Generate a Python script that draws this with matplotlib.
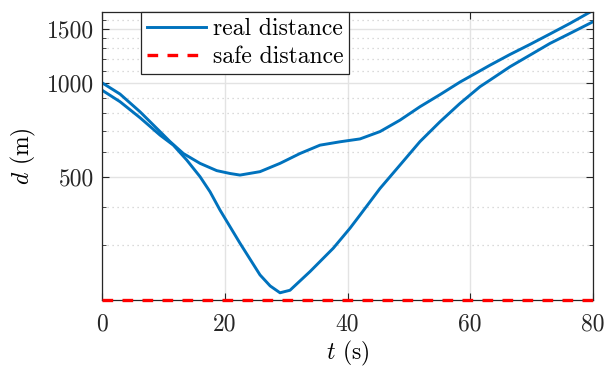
import matplotlib
matplotlib.use('Agg')
import matplotlib.pyplot as plt
from matplotlib.ticker import FixedLocator, NullFormatter

plt.rcParams['font.family'] = 'cmr10'
plt.rcParams['mathtext.fontset'] = 'cm'
plt.rcParams['axes.formatter.use_mathtext'] = True

# distance curves (t in s, d in m)
t_a = [0, 2.93, 6.19, 9.45, 11.08, 13.25, 15.97, 18.69, 20.86, 22.48, 25.74, 29.0,
       32.26, 35.52, 38.78, 42.04, 45.29, 48.55, 51.81, 55.07, 58.33, 61.59, 63.22,
       66.48, 69.73, 72.99, 76.25, 80]
d_a = [1005, 924, 810, 699, 649, 594, 552, 523, 512, 506, 519, 552,
       594, 632, 648, 662, 699, 761, 841, 920, 1010, 1098, 1145,
       1240, 1336, 1444, 1562, 1720]

t_b = [0, 2.93, 6.19, 9.45, 11.62, 13.8, 15.97, 17.6, 19.23, 22.48, 25.74, 27.4,
       29.0, 30.63, 33.89, 37.69, 40.41, 42.04, 45.29, 48.55, 51.81, 55.07, 58.33,
       61.59, 63.22, 66.48, 69.73, 72.99, 76.25, 80]
d_b = [951, 873, 775, 681, 632, 566, 500, 447, 390, 305, 241, 222,
       211, 215, 247, 294, 341, 376, 458, 545, 649, 752, 862,
       976, 1025, 1132, 1234, 1346, 1450, 1581]

t_safe = [0, 80]
d_safe = [200, 200]

yticks = [500, 1000, 1500]
yminor = [300, 400, 600, 700, 800, 900, 1100, 1200, 1300, 1400, 1600]

fig = plt.figure(figsize=(6.08, 3.67), dpi=100)
ax = fig.add_axes([0.1678, 0.1826, 0.8075, 0.7847])

blue = '#0072BD'
ax.plot(t_a, d_a, color=blue, lw=2.1, label='real distance', solid_joinstyle='round')
ax.plot(t_b, d_b, color=blue, lw=2.1, solid_joinstyle='round')
ax.plot(t_safe, d_safe, color='red', lw=2.4, ls=(0, (3.2, 2.8)), label='safe distance',
        clip_on=False, zorder=5)

ax.set_yscale('log')
ax.set_xlim(0, 80)
ax.set_ylim(200, 1700)
ax.set_xticks([0, 20, 40, 60, 80])
ax.set_xticklabels(['0', '20', '40', '60', '80'])
ax.yaxis.set_major_locator(FixedLocator(yticks))
ax.yaxis.set_minor_locator(FixedLocator(yminor))
ax.set_yticklabels([str(v) for v in yticks])
ax.yaxis.set_minor_formatter(NullFormatter())

ax.grid(True, which='major', color='#e3e3e3', lw=1.0, ls='-')
ax.grid(True, which='minor', axis='y', color='#cfcfcf', lw=0.9, ls=(0, (1, 3)))
ax.set_axisbelow(True)

ax.tick_params(which='both', direction='in', top=True, right=True, labelsize=17,
               colors='#262626')
ax.tick_params(axis='x', pad=10)
ax.tick_params(axis='y', pad=6)
ax.tick_params(which='major', length=5)
ax.tick_params(which='minor', length=3)
for s in ax.spines.values():
    s.set_color('#262626')
    s.set_linewidth(0.9)

ax.set_xlabel(r'$t$ (s)', fontsize=17, labelpad=2)
ax.set_ylabel(r'$d$ (m)', fontsize=17, labelpad=6)

leg = ax.legend(loc='upper left', bbox_to_anchor=(0.0794, 1.0), borderaxespad=0,
                fontsize=17, fancybox=False, framealpha=1, edgecolor='#262626',
                handlelength=2.5, handletextpad=0.3, borderpad=0.25, labelspacing=0.25)
leg.get_frame().set_linewidth(0.9)

fig.savefig('out.png', dpi=100)
